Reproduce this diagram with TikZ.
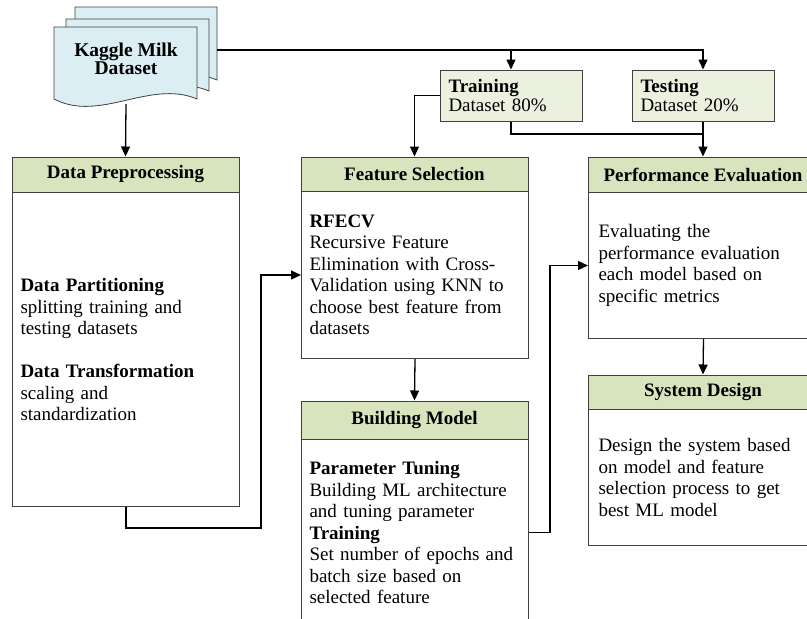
\documentclass[tikz,border=0pt]{standalone}
\usepackage{fontspec}
\setmainfont{Liberation Serif}
\usetikzlibrary{arrows.meta}
\definecolor{hdrgreen}{HTML}{D7E4BD}
\definecolor{boxgreen}{HTML}{EBF1DE}
\definecolor{docblue}{HTML}{DAEEF3}
\definecolor{edgegray}{HTML}{404040}
\begin{document}
\begin{tikzpicture}[x=1pt,y=-1pt,
  hdr/.style={draw=edgegray, line width=1pt, fill=hdrgreen, font=\fontsize{19}{21.5}\selectfont\bfseries, inner sep=0pt},
  body/.style={draw=edgegray, line width=1pt, fill=white, font=\fontsize{19}{21.5}\selectfont, align=left, inner xsep=8pt, inner ysep=0pt, anchor=north west},
  dbox/.style={draw=edgegray, line width=1pt, fill=boxgreen, font=\fontsize{19}{19.5}\selectfont, align=left, inner xsep=8pt, minimum width=142pt, minimum height=51pt, text width=125pt},
  page/.style={draw=edgegray, line width=0.8pt, fill=docblue},
  conn/.style={draw=black, line width=1.3pt},
  arr/.style={conn, -{Triangle[length=10pt,width=9pt]}}]
\useasboundingbox (0,0) rectangle (807,619);
\clip (0,0) rectangle (807,619);

% document stack
\path[page] (75,7) -- (217,7) -- (217,80) .. controls (170,60) and (120,104) .. (75,80) -- cycle;
\path[page] (66,19) -- (209,19) -- (209,91) .. controls (162,71) and (112,115) .. (66,91) -- cycle;
\path[page] (54,27) -- (197,27) -- (197,99) .. controls (150,79) and (100,123) .. (54,99) -- cycle;
\node[font=\fontsize{19.5}{18.5}\selectfont\bfseries, align=center] (doc) at (126,59) {Kaggle Milk\\Dataset};
\coordinate (docR) at (217,50);
\coordinate (docB) at (126,104);

% training / testing
\node[dbox] (train) at (511,95.5) {\textbf{Training}\\Dataset 80\%};
\node[dbox] (test) at (703,95.5) {\textbf{Testing}\\Dataset 20\%};
\coordinate (tj) at (703,134);

% Data preprocessing
\node[hdr, minimum width=227pt, minimum height=35pt] (dph) at (125.5,174.5) {Data Preprocessing};
\node[body, text width=211pt, minimum height=314pt] (dpb) at (12,192) {\textbf{Data Partitioning}\\splitting training and\\testing datasets\\[21.5pt]\textbf{Data Transformation}\\scaling and\\standardization};

% Feature selection
\node[hdr, minimum width=227pt, minimum height=34pt] (fsh) at (414.5,174) {Feature Selection};
\node[body, text width=211pt, minimum height=167pt] (fsb) at (301,191) {\textbf{RFECV}\\Recursive Feature\\Elimination with Cross-\\Validation using KNN to\\choose best feature from\\datasets};

% Building model
\node[hdr, minimum width=227pt, minimum height=38pt] (bmh) at (414.5,420) {Building Model};
\node[body, text width=211pt, minimum height=186pt] (bmb) at (301,439) {\textbf{Parameter Tuning}\\Building ML architecture\\and tuning parameter\\\textbf{Training}\\Set number of epochs and\\batch size based on\\selected feature};

% Performance evaluation
\node[hdr, minimum width=230pt, minimum height=35pt] (peh) at (703,174.5) {Performance Evaluation};
\node[body, inner xsep=10pt, text width=210pt, minimum height=146pt] (peb) at (588,192) {Evaluating the\\performance evaluation\\each model based on\\specific metrics};

% System design
\node[hdr, minimum width=230pt, minimum height=34pt] (sdh) at (703,392) {System Design};
\node[body, inner xsep=10pt, text width=210pt, minimum height=136pt] (sdb) at (588,409) {Design the system based\\on model and feature\\selection process to get\\best ML model};

% connectors
\draw[arr] (docB) -- (dph.north);
\draw[arr] (docR) -| (test.north);
\draw[arr] (train.north |- docR) -- (train.north);
\draw[arr] (train.west) -| (fsh.north);
\draw[conn] (train.south) |- (tj);
\draw[arr] (test.south) -- (peh.north);
\draw[arr] (dpb.south) -- ++(0,21) -| ([xshift=-40pt]fsb.west) -- (fsb.west);
\draw[arr] (fsb.south) -- (bmh.north);
\draw[arr] (bmb.east) -- ++(21,0) |- (peb.west);
\draw[arr] (peb.south) -- (sdh.north);
\end{tikzpicture}
\end{document}
